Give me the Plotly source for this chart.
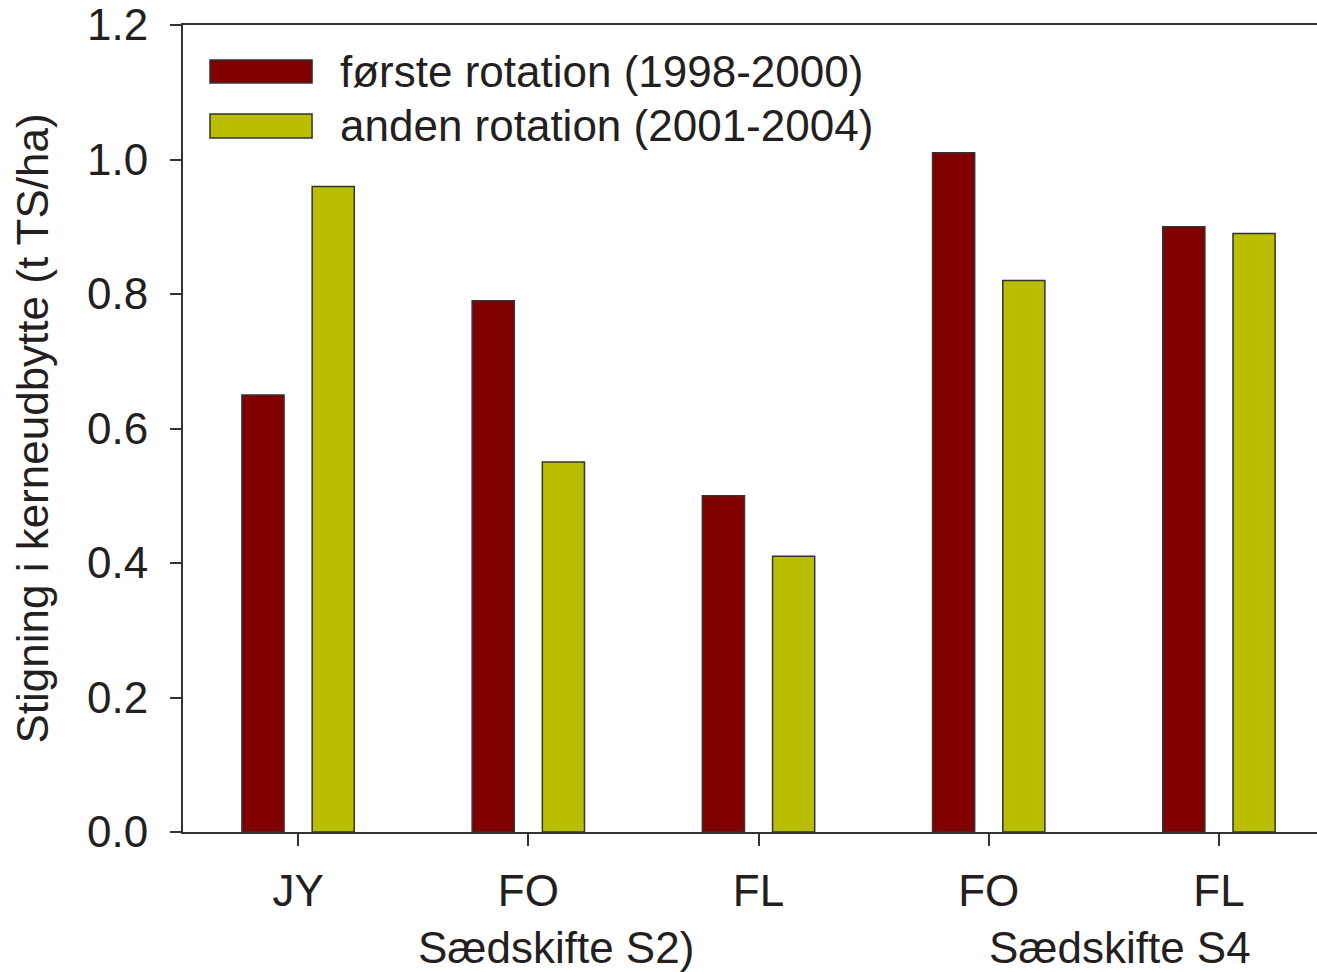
import plotly.graph_objects as go

categories = ['JY', 'FO', 'FL', 'FO', 'FL']
series_names = ['første rotation (1998-2000)', 'anden rotation (2001-2004)']
first_rotation = [0.65, 0.79, 0.50, 1.01, 0.90]
second_rotation = [0.96, 0.55, 0.41, 0.82, 0.89]
group_labels = ['Sædskifte S2)', 'Sædskifte S4']
y_ticks = [0.0, 0.2, 0.4, 0.6, 0.8, 1.0, 1.2]

colors = ['#800000', '#B9BF00']
font_family = 'Liberation Sans, Arial, sans-serif'
font_size = 44
text_color = '#231F20'
line_color = '#333333'

positions = list(range(len(categories)))

fig = go.Figure()

fig.add_bar(
    x=positions,
    y=first_rotation,
    width=0.183,
    offset=-0.244,
    marker=dict(color=colors[0], line=dict(color=line_color, width=1.5)),
    name=series_names[0],
    showlegend=False
)

fig.add_bar(
    x=positions,
    y=second_rotation,
    width=0.183,
    offset=0.061,
    marker=dict(color=colors[1], line=dict(color=line_color, width=1.5)),
    name=series_names[1],
    showlegend=False
)

# hand-made legend with wide swatches like the original
legend_rows = [(0.9566, 0.9281), (0.8897, 0.8600)]
for (y_top, y_bottom), name, color in zip(legend_rows, series_names, colors):
    fig.add_shape(
        type='rect', xref='paper', yref='paper',
        x0=0.0238, x1=0.1138, y0=y_bottom, y1=y_top,
        fillcolor=color, opacity=1, layer='above',
        line=dict(color=line_color, width=1.5)
    )
    fig.add_annotation(
        xref='paper', yref='paper',
        x=0.1367, y=(y_top + y_bottom) / 2,
        xanchor='left', yanchor='middle',
        text=name, showarrow=False,
        font=dict(size=font_size, color=text_color, family=font_family)
    )

# group labels under the categories
for label, x_pos in zip(group_labels, [1.12, 3.57]):
    fig.add_annotation(
        xref='x', yref='paper',
        x=x_pos, y=-0.143,
        xanchor='center', yanchor='middle',
        text=label, showarrow=False,
        font=dict(size=font_size, color=text_color, family=font_family)
    )

fig.update_layout(
    width=1317,
    height=972,
    template='simple_white',
    paper_bgcolor='white',
    plot_bgcolor='white',
    margin=dict(l=183, r=0, t=25, b=140),
    font=dict(family=font_family, size=font_size, color=text_color),
    showlegend=False,
    xaxis=dict(
        range=[-0.5, 4.426],
        tickmode='array',
        tickvals=positions,
        ticktext=categories,
        showline=True,
        mirror=True,
        linecolor=line_color,
        linewidth=2,
        ticks='outside',
        ticklen=12,
        tickwidth=1.5,
        tickcolor=line_color,
        ticklabelstandoff=7,
        showgrid=False,
        zeroline=False
    ),
    yaxis=dict(
        range=[0, 1.2],
        tickmode='array',
        tickvals=y_ticks,
        ticktext=[f'{v:.1f}' for v in y_ticks],
        ticklabeloverflow='allow',
        showline=True,
        linecolor=line_color,
        linewidth=2,
        ticks='outside',
        ticklen=11,
        tickwidth=1.5,
        tickcolor=line_color,
        ticklabelstandoff=13,
        showgrid=False,
        zeroline=False,
        title=dict(text='Stigning i kerneudbytte (t TS/ha)', standoff=25,
                   font=dict(size=font_size, color=text_color, family=font_family))
    )
)

# drop the default 8px body margin so the figure fills the window exactly
fig.write_html(
    'out.html',
    config={'displayModeBar': False},
    post_script="document.body.style.margin = '0';"
)
